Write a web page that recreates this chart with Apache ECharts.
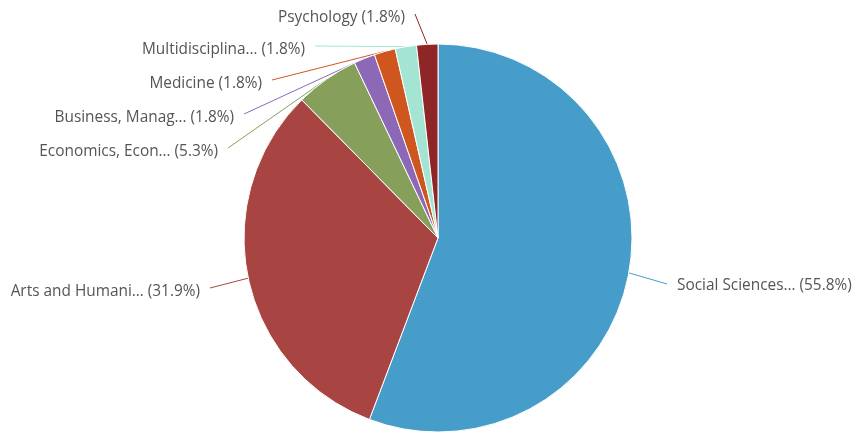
<!DOCTYPE html>
<html>
<head>
<meta charset="utf-8">
<script src="https://cdn.jsdelivr.net/npm/echarts@6/dist/echarts.min.js"></script>
<style>
  html, body { margin: 0; padding: 0; background: #fff; }
  #chart { width: 854px; height: 432px; }
</style>
</head>
<body>
<div id="chart"></div>
<script>
// Documents per subject area
const categories = [
  'Social Sciences…',
  'Arts and Humani…',
  'Economics, Econ…',
  'Business, Manag…',
  'Medicine',
  'Multidisciplina…',
  'Psychology'
];
const documentCounts = [63, 36, 6, 2, 2, 2, 2];
const sliceColors = ['#479dca', '#a84442', '#86a05c', '#8c68b6', '#cf561f', '#a3e4d3', '#8e2527'];

// Label anchor for each slice: [x, y, side]
const labelAnchors = [
  [677, 286, 'left'],
  [200, 292, 'right'],
  [218, 152, 'right'],
  [234, 118, 'right'],
  [262, 84, 'right'],
  [305, 50, 'right'],
  [405, 18, 'right']
];

const total = documentCounts.reduce((a, b) => a + b, 0);
const data = categories.map((name, i) => ({
  name,
  value: documentCounts[i],
  itemStyle: { color: sliceColors[i] },
  labelLine: { lineStyle: { color: sliceColors[i] } }
}));

const chart = echarts.init(document.getElementById('chart'));
chart.setOption({
  animation: false,
  series: [{
    type: 'pie',
    center: [438, 238],
    radius: 194,
    startAngle: 90,
    clockwise: true,
    data,
    itemStyle: { borderColor: '#ffffff', borderWidth: 1 },
    label: {
      show: true,
      fontFamily: 'Open Sans',
      fontSize: 15.4,
      color: '#555555',
      formatter: p => p.name + ' (' + (p.value / total * 100).toFixed(1) + '%)'
    },
    labelLine: { show: true, length: 10, length2: 10, lineStyle: { width: 1 } },
    labelLayout: function (params) {
      const a = labelAnchors[params.dataIndex];
      const start = params.labelLinePoints ? params.labelLinePoints[0] : [a[0], a[1]];
      const end = a[2] === 'left' ? [a[0] - 10, a[1] - 2] : [a[0] + 10, a[1] - 4];
      return {
        x: a[0],
        y: a[1],
        align: a[2],
        verticalAlign: 'middle',
        labelLinePoints: [start, end]
      };
    }
  }]
});
</script>
</body>
</html>
